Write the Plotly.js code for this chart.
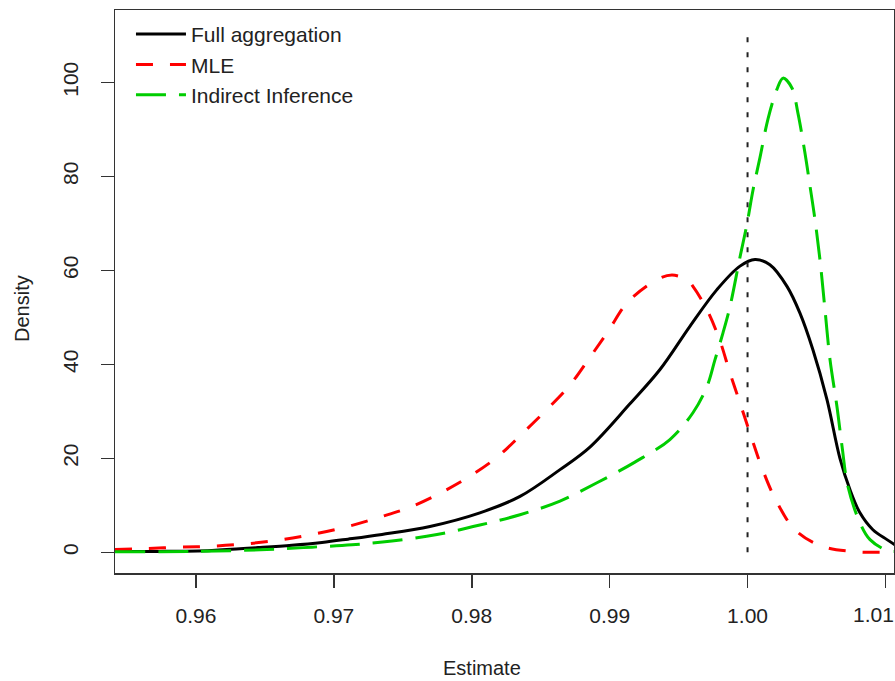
<!DOCTYPE html>
<html>
<head>
<meta charset="utf-8">
<script src="https://cdn.plot.ly/plotly-3.0.1.min.js"></script>
<style>html,body{margin:0;padding:0;background:#fff}#chart{width:895px;height:681px}</style>
</head>
<body>
<div id="chart"></div>
<script>
// Full aggregation (black, solid)
var fullX = [0.95413, 0.95739, 0.96116, 0.96450, 0.96696, 0.96914, 0.97102, 0.97349, 0.97697, 0.98059, 0.98350, 0.98640, 0.98857, 0.99147, 0.99365, 0.99582, 0.99778, 0.99945, 1.00054, 1.00162, 1.00286, 1.00380, 1.00474, 1.00576, 1.00670, 1.00743, 1.00815, 1.00909, 1.01011, 1.01069];
var fullY = [0.2, 0.2, 0.4, 1.0, 1.5, 2.1, 2.8, 3.8, 5.5, 8.4, 11.9, 17.6, 22.4, 31.6, 38.9, 48.1, 55.9, 60.9, 62.3, 61.2, 56.6, 50.9, 43.1, 32.5, 20.0, 13.3, 8.4, 4.8, 2.7, 1.6];

// MLE (red, dashed)
var mleX = [0.95413, 0.95630, 0.95884, 0.96116, 0.96363, 0.96602, 0.96841, 0.97088, 0.97334, 0.97552, 0.97784, 0.97987, 0.98190, 0.98371, 0.98545, 0.98712, 0.98850, 0.98988, 0.99133, 0.99343, 0.99452, 0.99561, 0.99604, 0.99706, 0.99800, 0.99872, 0.99945, 1.00025, 1.00104, 1.00199, 1.00344, 1.00539, 1.00772, 1.01011, 1.01069];
var mleY = [0.6, 0.8, 1.1, 1.3, 1.8, 2.6, 3.8, 5.4, 7.5, 9.6, 12.8, 16.2, 20.4, 25.4, 30.4, 35.6, 41.2, 47.0, 53.3, 58.0, 59.0, 58.0, 56.6, 51.6, 45.0, 38.2, 31.8, 24.7, 18.0, 11.5, 4.8, 1.3, 0.15, 0, 0];

// Indirect Inference (green, long dash)
var iiX = [0.95413, 0.96029, 0.96515, 0.96841, 0.97131, 0.97421, 0.97748, 0.98059, 0.98350, 0.98640, 0.98908, 0.99183, 0.99437, 0.99604, 0.99706, 0.99764, 0.99822, 0.99872, 0.99945, 0.99996, 1.00039, 1.00090, 1.00148, 1.00213, 1.00257, 1.00322, 1.00365, 1.00416, 1.00453, 1.00489, 1.00525, 1.00561, 1.00598, 1.00648, 1.00685, 1.00728, 1.00815, 1.00888, 1.01011, 1.01069];
var iiY = [0.1, 0.2, 0.6, 1.1, 1.6, 2.4, 3.8, 5.8, 8.0, 10.9, 14.8, 19.2, 24.0, 29.7, 35.3, 41.0, 46.7, 52.2, 62.8, 69.9, 77.0, 84.0, 92.2, 98.5, 100.9, 98.8, 93.5, 85.0, 77.9, 70.8, 62.3, 51.8, 41.0, 31.1, 22.6, 14.0, 6.3, 2.7, 0.4, 0.2];

// Reference line at the true value
var refX = [1.0, 1.0];
var refY = [0, 110];

var xTicks = [0.96, 0.97, 0.98, 0.99, 1.00, 1.01];
var xTickText = ['0.96', '0.97', '0.98', '0.99', '1.00', ''];
var lastXTickValue = 1.01;
var lastXTickLabel = '1.01';
var yTicks = [0, 20, 40, 60, 80, 100];
var yTickText = ['0', '20', '40', '60', '80', '100'];

var seriesNames = ['Full aggregation', 'MLE', 'Indirect Inference'];

var FONT = 'Liberation Sans, Arial, sans-serif';
var TXT = '#222';

var traces = [
  {x: fullX, y: fullY, name: seriesNames[0], type: 'scatter', mode: 'lines',
   line: {color: '#000000', width: 3, shape: 'spline', smoothing: 1.0}},
  {x: mleX, y: mleY, name: seriesNames[1], type: 'scatter', mode: 'lines',
   line: {color: '#FF0000', width: 3, dash: '17px,17px', shape: 'spline', smoothing: 1.0}},
  {x: iiX, y: iiY, name: seriesNames[2], type: 'scatter', mode: 'lines',
   line: {color: '#00CD00', width: 3, dash: '30px,13px', shape: 'spline', smoothing: 1.0}},
  {x: refX, y: refY, type: 'scatter', mode: 'lines', showlegend: false, hoverinfo: 'skip',
   line: {color: '#222', width: 2, dash: '5px,10px'}}
];

var layout = {
  width: 895, height: 681,
  margin: {l: 115, r: 1, t: 10, b: 108, pad: 0},
  paper_bgcolor: '#fff', plot_bgcolor: '#fff',
  font: {family: FONT, size: 21, color: TXT},
  showlegend: true,
  legend: {x: 0.0205, y: 0.993, xanchor: 'left', yanchor: 'top', bgcolor: 'rgba(0,0,0,0)',
           font: {family: FONT, size: 21, color: TXT}, itemwidth: 50, tracegroupgap: 0},
  xaxis: {range: [0.95413, 1.01062], tickmode: 'array', tickvals: xTicks, ticktext: xTickText,
          ticks: 'outside', ticklen: 13, tickwidth: 1.5, tickcolor: '#333',
          ticklabelstandoff: 10,
          showline: true, mirror: true, linecolor: '#333', linewidth: 1.5,
          showgrid: false, zeroline: false, tickfont: {family: FONT, size: 21, color: TXT}},
  yaxis: {range: [-4.4, 115.4], tickmode: 'array', tickvals: yTicks, ticktext: yTickText,
          ticks: 'outside', ticklen: 13, tickwidth: 1.5, tickcolor: '#333', tickangle: -90,
          ticklabelstandoff: 14,
          showline: true, mirror: true, linecolor: '#333', linewidth: 1.5,
          showgrid: false, zeroline: false, tickfont: {family: FONT, size: 21, color: TXT}},
  annotations: [
    {text: lastXTickLabel, xref: 'x', yref: 'paper', x: lastXTickValue, y: -0.0746, xshift: -12,
     xanchor: 'center', yanchor: 'middle', showarrow: false, font: {family: FONT, size: 21, color: TXT}},
    {text: 'Estimate', xref: 'paper', yref: 'paper', x: 0.4711, y: -0.1687,
     xanchor: 'center', yanchor: 'middle', showarrow: false, font: {family: FONT, size: 20, color: TXT}},
    {text: 'Density', xref: 'paper', yref: 'paper', x: -0.1194, y: 0.4707, textangle: -90,
     xanchor: 'center', yanchor: 'middle', showarrow: false, font: {family: FONT, size: 20, color: TXT}}
  ]
};

Plotly.newPlot('chart', traces, layout, {displayModeBar: false, staticPlot: true});
</script>
</body>
</html>
